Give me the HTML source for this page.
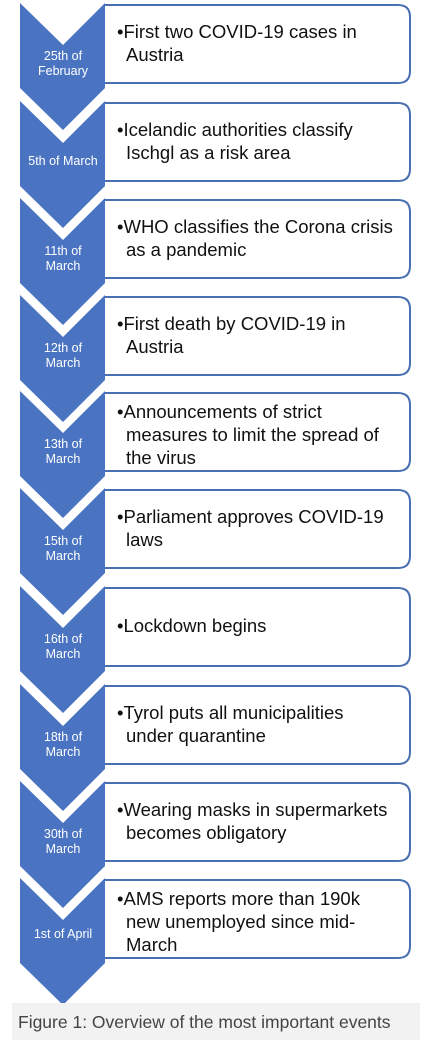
<!DOCTYPE html>
<html><head><meta charset="utf-8"><style>
html,body{margin:0;padding:0;background:#fff;width:427px;height:1052px;overflow:hidden}
svg{display:block}
.t{font-family:"Liberation Sans",sans-serif;font-size:18.5px;fill:#111}
.d{font-family:"Liberation Sans",sans-serif;font-size:12.5px;fill:#fff;text-anchor:middle}
.c{font-family:"Liberation Sans",sans-serif;font-size:17.5px;fill:#444}
</style></head><body>
<svg width="427" height="1052" viewBox="0 0 427 1052">
<defs>
<g id="chev"><path d="M20,0 L63,42 L105,0 L105,85 L63,127 L20,85 Z" fill="#4a74c2"/></g>
<g id="box"><path d="M105,0 H398 Q410,0 410,12 V66 Q410,78 398,78 H105" fill="#fff" stroke="#4a6fb0" stroke-width="2"/></g>
</defs>
<g transform="translate(0,3)"><use href="#chev"/><use href="#box" y="2"/>
<text class="d" x="63" y="57">25th of</text><text class="d" x="63" y="72">February</text>
<text class="t" x="117" y="35">•First two COVID-19 cases in</text><text class="t" x="126" y="58">Austria</text></g>
<g transform="translate(0,101)"><use href="#chev"/><use href="#box" y="2"/>
<text class="d" x="63" y="64">5th of March</text>
<text class="t" x="117" y="35">•Icelandic authorities classify</text><text class="t" x="126" y="58">Ischgl as a risk area</text></g>
<g transform="translate(0,198)"><use href="#chev"/><use href="#box" y="2"/>
<text class="d" x="63" y="57">11th of</text><text class="d" x="63" y="72">March</text>
<text class="t" x="117" y="35">•WHO classifies the Corona crisis</text><text class="t" x="126" y="58">as a pandemic</text></g>
<g transform="translate(0,295)"><use href="#chev"/><use href="#box" y="2"/>
<text class="d" x="63" y="57">12th of</text><text class="d" x="63" y="72">March</text>
<text class="t" x="117" y="35">•First death by COVID-19 in</text><text class="t" x="126" y="58">Austria</text></g>
<g transform="translate(0,391)"><use href="#chev"/><use href="#box" y="2"/>
<text class="d" x="63" y="57">13th of</text><text class="d" x="63" y="72">March</text>
<text class="t" x="117" y="27">•Announcements of strict</text><text class="t" x="126" y="50">measures to limit the spread of</text><text class="t" x="126" y="73">the virus</text></g>
<g transform="translate(0,488)"><use href="#chev"/><use href="#box" y="2"/>
<text class="d" x="63" y="57">15th of</text><text class="d" x="63" y="72">March</text>
<text class="t" x="117" y="35">•Parliament approves COVID-19</text><text class="t" x="126" y="58">laws</text></g>
<g transform="translate(0,586)"><use href="#chev"/><use href="#box" y="2"/>
<text class="d" x="63" y="57">16th of</text><text class="d" x="63" y="72">March</text>
<text class="t" x="117" y="46">•Lockdown begins</text></g>
<g transform="translate(0,684)"><use href="#chev"/><use href="#box" y="2"/>
<text class="d" x="63" y="57">18th of</text><text class="d" x="63" y="72">March</text>
<text class="t" x="117" y="35">•Tyrol puts all municipalities</text><text class="t" x="126" y="58">under quarantine</text></g>
<g transform="translate(0,781)"><use href="#chev"/><use href="#box" y="2"/>
<text class="d" x="63" y="57">30th of</text><text class="d" x="63" y="72">March</text>
<text class="t" x="117" y="35">•Wearing masks in supermarkets</text><text class="t" x="126" y="58">becomes obligatory</text></g>
<g transform="translate(0,878)"><use href="#chev"/><use href="#box" y="2"/>
<text class="d" x="63" y="60">1st of April</text>
<text class="t" x="117" y="27">•AMS reports more than 190k</text><text class="t" x="126" y="50">new unemployed since mid-</text><text class="t" x="126" y="73">March</text></g>
<rect x="12" y="1003" width="408" height="37" fill="#f2f2f2"/>
<text class="c" x="18" y="1028">Figure 1: Overview of the most important events</text>
</svg>
</body></html>
